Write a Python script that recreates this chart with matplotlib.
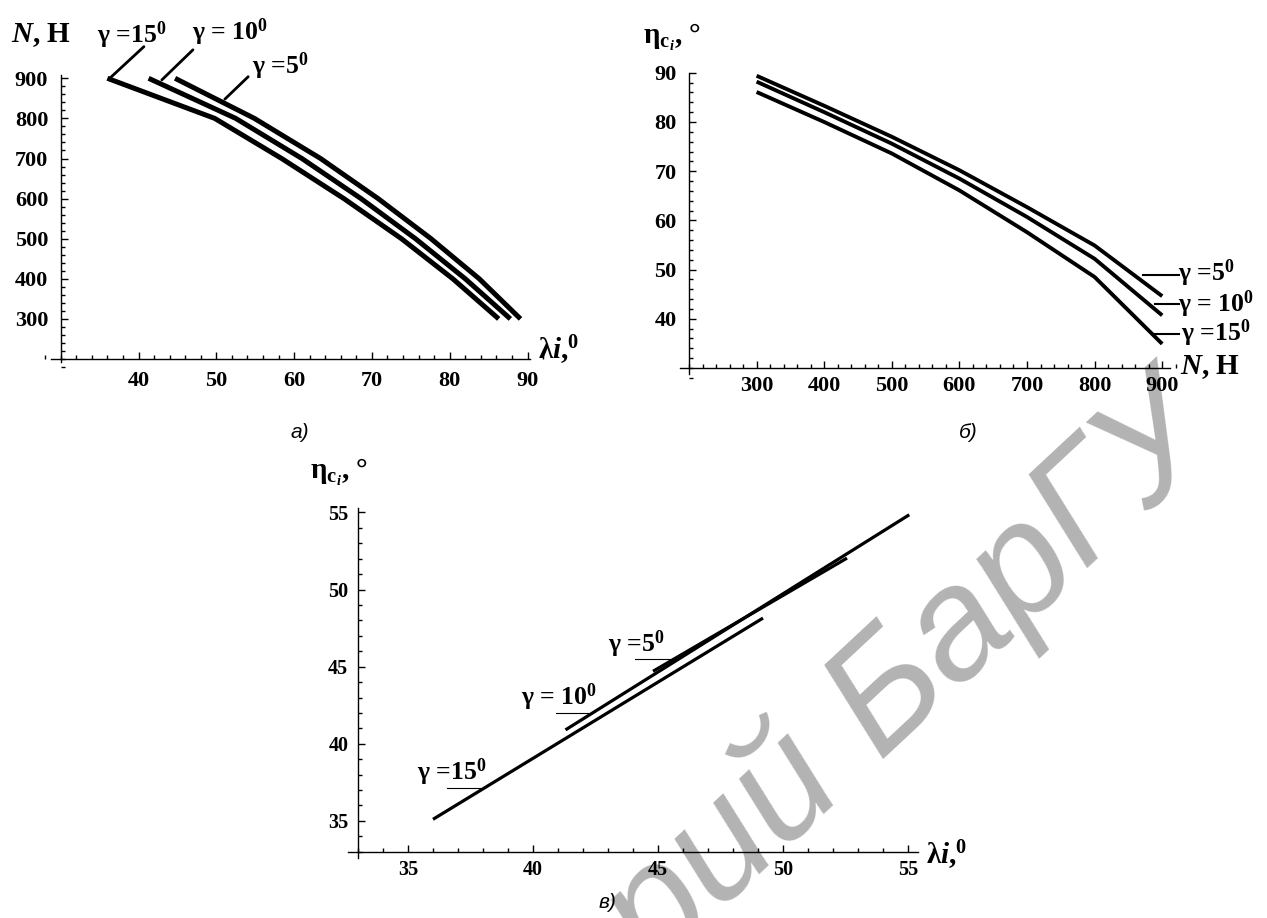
import matplotlib
matplotlib.use("Agg")
import matplotlib.pyplot as plt
from matplotlib.ticker import MultipleLocator

# ---------------- data ----------------
# panel a: N (H) vs lambda_i (deg)
a_N = [900, 800, 700, 600, 500, 400, 300]
a_lam_g5 = [44.7, 54.9, 63.4, 70.8, 77.6, 83.8, 89.1]
a_lam_g10 = [41.3, 52.5, 61.0, 68.6, 75.6, 82.0, 87.8]
a_lam_g15 = [36.0, 49.8, 58.4, 66.4, 73.8, 80.4, 86.3]

# panel b: eta_ci (deg) vs N (H)
b_N = [300, 400, 500, 600, 700, 800, 900]
b_eta_g5 = [89.4, 83.3, 77.0, 70.2, 62.7, 54.9, 44.6]
b_eta_g10 = [88.2, 82.0, 75.6, 68.5, 60.7, 52.2, 40.7]
b_eta_g15 = [86.1, 80.0, 73.6, 66.1, 57.6, 48.5, 34.9]

# panel c: eta_ci vs lambda_i
c_lam_g15 = [36.0, 49.2]
c_eta_g15 = [35.1, 48.15]
c_lam_g10 = [41.3, 55.05]
c_eta_g10 = [40.9, 54.85]
c_lam_g5 = [44.8, 52.56]
c_eta_g5 = [44.7, 52.04]

gamma_labels = ["γ =5$^{0}$", "γ = 10$^{0}$", "γ =15$^{0}$"]

# ---------------- style ----------------
plt.rcParams['font.family'] = ['Liberation Serif', 'DejaVu Serif']
plt.rcParams['font.weight'] = 'bold'
plt.rcParams['mathtext.fontset'] = 'custom'
plt.rcParams['mathtext.rm'] = 'Liberation Serif:bold'
plt.rcParams['mathtext.bf'] = 'Liberation Serif:bold'
plt.rcParams['mathtext.it'] = 'Liberation Serif:italic:bold'

W, H = 1267, 918
fig = plt.figure(figsize=(W / 100, H / 100), dpi=100)

GFS = 18.5   # gamma label size
AFS = 21     # axis label size


def fx(px):
    return px / W


def fy(py):
    return 1 - py / H


def make_axes(x0, px0, sx, y0, py0, sy, xlim, ylim):
    left = px0 + (xlim[0] - x0) * sx
    right = px0 + (xlim[1] - x0) * sx
    bot = py0 - (ylim[0] - y0) * sy
    top = py0 - (ylim[1] - y0) * sy
    ax = fig.add_axes([fx(left), fy(bot), (right - left) / W, (bot - top) / H])
    ax.set_xlim(*xlim)
    ax.set_ylim(*ylim)
    ax.patch.set_alpha(0)
    for s in ('top', 'right'):
        ax.spines[s].set_visible(False)
    ax.spines['left'].set_position(('data', x0))
    ax.spines['bottom'].set_position(('data', y0))
    for s in ('left', 'bottom'):
        ax.spines[s].set_linewidth(1.0)
    ax.tick_params(which='both', direction='in', width=1.0)
    ax.tick_params(which='major', length=5)
    ax.tick_params(which='minor', length=3)
    return ax


def leader(ax, p0, p1, lw):
    ax.annotate("", xy=p1, xytext=p0, annotation_clip=False,
                arrowprops=dict(arrowstyle='-', lw=lw, color='black',
                                shrinkA=0, shrinkB=0))


# ---------------- watermark (behind everything) ----------------
fig.text(fx(1222), fy(444), "Репозиторий БарГУ", fontsize=114, rotation=43,
         rotation_mode='anchor', ha='right', va='baseline', color='#b3b3b3',
         family=['Liberation Sans', 'DejaVu Sans'], style='italic', weight='normal',
         zorder=-5)

# ---------------- panel a ----------------
axa = make_axes(30, 60.7, 7.78, 200, 359, 0.401, (28, 92), (180, 910))
axa.spines['left'].set_bounds(192, 908)
axa.spines['bottom'].set_bounds(28.8, 90.3)
axa.set_xticks([40, 50, 60, 70, 80, 90])
axa.set_yticks([300, 400, 500, 600, 700, 800, 900])
axa.xaxis.set_minor_locator(MultipleLocator(2))
axa.yaxis.set_minor_locator(MultipleLocator(20))
axa.tick_params(axis='x', labelsize=16, pad=9)
axa.tick_params(axis='y', labelsize=16, pad=9)
for lam in (a_lam_g5, a_lam_g10, a_lam_g15):
    axa.plot(lam, a_N, color='black', lw=3.6, solid_capstyle='butt')
leader(axa, (40.7, 979), (36.3, 900), 2.0)
leader(axa, (47.0, 971), (43.0, 896), 2.0)
leader(axa, (54.1, 904), (51.1, 848), 2.0)
fig.text(fx(97), fy(35), gamma_labels[2], fontsize=GFS, va='center', ha='left')
fig.text(fx(192), fy(32), gamma_labels[1], fontsize=GFS, va='center', ha='left')
fig.text(fx(252), fy(66), gamma_labels[0], fontsize=GFS, va='center', ha='left')
fig.text(fx(11), fy(35), "$N$, H", fontsize=AFS, va='center', ha='left')
fig.text(fx(538), fy(350), "λ$i$,$^{0}$", fontsize=AFS, va='center', ha='left')
fig.text(fx(300), fy(432), "а)", fontsize=15, va='center', ha='center',
         family=['Liberation Sans', 'DejaVu Sans'], style='italic', weight='normal')

# ---------------- panel b ----------------
axb = make_axes(200, 689, 0.676, 30, 368, 4.92, (185, 920), (27, 91))
axb.spines['left'].set_bounds(28.8, 90)
axb.spines['bottom'].set_bounds(186, 911)
axb.set_xticks([300, 400, 500, 600, 700, 800, 900])
axb.set_yticks([40, 50, 60, 70, 80, 90])
axb.xaxis.set_minor_locator(MultipleLocator(20))
axb.yaxis.set_minor_locator(MultipleLocator(2))
axb.tick_params(axis='x', labelsize=16, pad=6)
axb.tick_params(axis='y', labelsize=16, pad=9)
for eta in (b_eta_g5, b_eta_g10, b_eta_g15):
    axb.plot(b_N, eta, color='black', lw=2.8, solid_capstyle='butt')
for (xs, ys) in (((871.6, 924.9), (48.9, 48.9)),
                 ((889.3, 924.9), (43.0, 43.0)),
                 ((886.4, 924.9), (36.9, 36.9))):
    axb.plot(xs, ys, color='black', lw=1.5, clip_on=False)
fig.text(fx(1178), fy(273), gamma_labels[0], fontsize=GFS, va='center', ha='left')
fig.text(fx(1178), fy(304), gamma_labels[1], fontsize=GFS, va='center', ha='left')
fig.text(fx(1181), fy(333), gamma_labels[2], fontsize=GFS, va='center', ha='left')
fig.text(fx(643), fy(37), "η$_{\\mathrm{c}_{i}}$, °", fontsize=AFS, va='center', ha='left')
fig.text(fx(1180), fy(367), "$N$, H", fontsize=AFS, va='center', ha='left')
fig.text(fx(968), fy(432), "б)", fontsize=15, va='center', ha='center',
         family=['Liberation Sans', 'DejaVu Sans'], style='italic', weight='normal')

# ---------------- panel c ----------------
axc = make_axes(33, 358, 25.0, 33, 851.7, 15.42, (32.4, 56), (32.5, 55.5))
axc.spines['left'].set_bounds(32.6, 55.3)
axc.spines['bottom'].set_bounds(32.6, 55.4)
axc.set_xticks([35, 40, 45, 50, 55])
axc.set_yticks([35, 40, 45, 50, 55])
axc.xaxis.set_minor_locator(MultipleLocator(1))
axc.yaxis.set_minor_locator(MultipleLocator(1))
axc.tick_params(axis='x', labelsize=14.5, pad=6)
axc.tick_params(axis='y', labelsize=14.5, pad=7)
for lam, eta in ((c_lam_g15, c_eta_g15), (c_lam_g10, c_eta_g10), (c_lam_g5, c_eta_g5)):
    axc.plot(lam, eta, color='black', lw=2.3, solid_capstyle='butt')
for (xs, ys) in (((36.56, 37.88), (37.13, 37.13)),
                 ((40.92, 42.2), (42.0, 42.0)),
                 ((44.08, 45.6), (45.5, 45.5))):
    axc.plot(xs, ys, color='black', lw=0.8)
fig.text(fx(417), fy(772), gamma_labels[2], fontsize=GFS, va='center', ha='left')
fig.text(fx(521), fy(697), gamma_labels[1], fontsize=GFS, va='center', ha='left')
fig.text(fx(608), fy(644), gamma_labels[0], fontsize=GFS, va='center', ha='left')
fig.text(fx(310), fy(472), "η$_{\\mathrm{c}_{i}}$, °", fontsize=AFS, va='center', ha='left')
fig.text(fx(926), fy(855), "λ$i$,$^{0}$", fontsize=AFS, va='center', ha='left')
fig.text(fx(608), fy(903), "в)", fontsize=15, va='center', ha='center',
         family=['Liberation Sans', 'DejaVu Sans'], style='italic', weight='normal')

fig.savefig("out.png", dpi=100)
